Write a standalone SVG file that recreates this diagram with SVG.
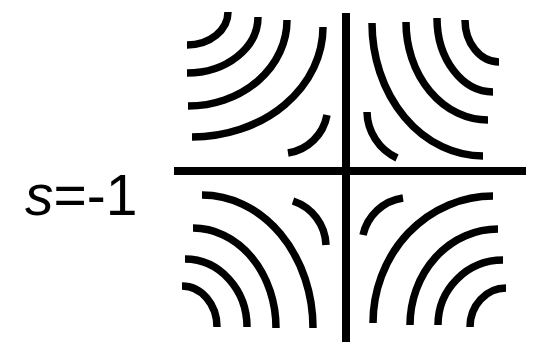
<svg xmlns="http://www.w3.org/2000/svg" width="540" height="342" viewBox="0 0 540 342">
<style>
.ax{stroke:#000;stroke-width:8;fill:none}
.arc{stroke:#000;stroke-width:7.5;fill:none;stroke-linecap:butt}
.lbl{font-family:"Liberation Sans",Arial,sans-serif;font-size:57px;fill:#000}
</style>
<rect width="540" height="342" fill="#fff"/>
<g id="axes">
<line class="ax" x1="346" y1="13" x2="346" y2="342"/>
<line class="ax" x1="174" y1="171" x2="526" y2="171"/>
</g>
<g id="top-left">
<path class="arc" d="M187 45 A41 33 0 0 0 228 12"/>
<path class="arc" d="M187 73 A71 56 0 0 0 258 17"/>
<path class="arc" d="M188 106 A99 86 0 0 0 287 20"/>
<path class="arc" d="M192 137 A131 110 0 0 0 323 27"/>
<path class="arc" d="M288 153 A47 47 0 0 0 327 115"/>
</g>
<g id="top-right">
<path class="arc" d="M465 20 A34 42 0 0 0 499 62"/>
<path class="arc" d="M437 18 A56 74 0 0 0 493 92"/>
<path class="arc" d="M406 22 A82 98 0 0 0 488 120"/>
<path class="arc" d="M372 23 A111 133 0 0 0 483 156"/>
<path class="arc" d="M367 112 A52 52 0 0 0 397 158"/>
</g>
<g id="bottom-left">
<path class="arc" d="M202 195 A111 133 0 0 1 313 328"/>
<path class="arc" d="M193 228 A83 100 0 0 1 276 328"/>
<path class="arc" d="M185 259 A62 68 0 0 1 247 327"/>
<path class="arc" d="M182 286 A35 41 0 0 1 217 327"/>
<path class="arc" d="M293 201 A48 48 0 0 1 326 245"/>
</g>
<g id="bottom-right">
<path class="arc" d="M373 323 A120 127 0 0 1 493 196"/>
<path class="arc" d="M410 325 A88 96 0 0 1 498 229"/>
<path class="arc" d="M438 325 A65 65 0 0 1 503 260"/>
<path class="arc" d="M470 327 A36 39 0 0 1 506 288"/>
<path class="arc" d="M363 235 A48 48 0 0 1 403 198"/>
</g>
<g id="label">
<text class="lbl" x="25" y="215"><tspan font-style="italic">s</tspan>=-1</text>
</g>
</svg>
